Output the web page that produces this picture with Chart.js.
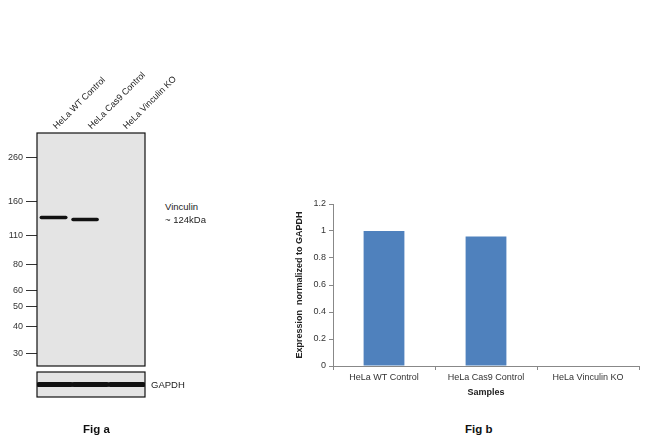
<!DOCTYPE html>
<html><head><meta charset="utf-8">
<script src="https://cdn.jsdelivr.net/npm/chart.js@4"></script>
<style>
body{margin:0;width:650px;height:442px;background:#fff;font-family:Arial,"Liberation Sans",sans-serif;position:relative;overflow:hidden}
canvas{position:absolute}
.t{position:absolute;font-size:9.5px;color:#222;white-space:nowrap}
.lane{position:absolute;font-size:9px;color:#222;white-space:nowrap;transform-origin:0 100%;transform:rotate(-45deg)}
.fig{position:absolute;font-weight:bold;font-size:11.5px;color:#111}
</style></head><body>
<div style="position:absolute;left:0;top:120px;width:160px;height:256px"><canvas id="blot"></canvas></div>
<div style="position:absolute;left:0;top:368px;width:160px;height:34px"><canvas id="gapdh"></canvas></div>
<div style="position:absolute;left:290px;top:190px;width:360px;height:212px"><canvas id="bar"></canvas></div>
<div id="lanes"></div>
<div class="t" style="left:165px;top:201px">Vinculin</div>
<div class="t" style="left:165px;top:214px">~ 124kDa</div>
<div class="t" style="left:151px;top:379px">GAPDH</div>
<div class="fig" style="left:83px;top:423px">Fig a</div>
<div class="fig" style="left:465px;top:423px">Fig b</div>
<script>
const laneLabels=["HeLa WT Control","HeLa Cas9 Control","HeLa Vinculin KO"];
const mwTicks=[260,160,110,80,60,50,40,30];
const vinculinBands=[134,131,null];
const vinculinSpans=[[0.12,0.8],[1.0,1.67],null];
const gapdhBands=[1,1,1];
const gapdhSpans=[[0.05,0.95],[1.02,1.95],[2.03,2.95]];
const categories=["HeLa WT Control","HeLa Cas9 Control","HeLa Vinculin KO"];
const expression=[1.0,0.96,0];
const yTicks=[0,0.2,0.4,0.6,0.8,1,1.2];

const lanesDiv=document.getElementById('lanes');
laneLabels.forEach((l,i)=>{const d=document.createElement('div');d.className='lane';d.textContent=l;d.style.left=(58+i*35)+'px';d.style.top=(121)+'px';lanesDiv.appendChild(d);});

const gelBg={id:'gelBg',beforeDraw(c){const a=c.chartArea,x=c.ctx;x.save();x.fillStyle='#e4e4e4';x.fillRect(a.left,a.top,a.right-a.left,a.bottom-a.top);x.restore();},
afterDraw(c){const a=c.chartArea,x=c.ctx;x.save();x.strokeStyle='#111';x.lineWidth=1.2;x.strokeRect(a.left,a.top,a.right-a.left,a.bottom-a.top);x.restore();}};

function bandSets(vals,spans,w){return vals.map((v,i)=>v==null?null:({data:[{x:spans[i][0],y:v},{x:spans[i][1],y:v}],borderColor:'#111',borderWidth:w,pointRadius:0,showLine:true,borderCapStyle:'round'})).filter(Boolean);}

new Chart(document.getElementById('blot'),{type:'scatter',
data:{datasets:bandSets(vinculinBands,vinculinSpans,3.5)},
options:{responsive:true,maintainAspectRatio:false,animation:false,events:[],
layout:{padding:{top:13,bottom:10,right:15}},
plugins:{legend:{display:false},tooltip:{enabled:false}},
scales:{x:{type:'linear',min:0,max:3,display:false},
y:{type:'logarithmic',min:26,max:340,afterBuildTicks(s){s.ticks=mwTicks.map(v=>({value:v}));},afterFit(s){s.width=37;},
border:{display:false},grid:{drawOnChartArea:false,tickLength:11,color:'#333',tickColor:'#333'},
ticks:{color:'#333',font:{size:9},padding:3,callback:v=>String(v)}}}},plugins:[gelBg]});

new Chart(document.getElementById('gapdh'),{type:'scatter',
data:{datasets:bandSets(gapdhBands,gapdhSpans,5)},
options:{responsive:true,maintainAspectRatio:false,animation:false,events:[],
layout:{padding:{left:37,right:15,top:4,bottom:5}},
plugins:{legend:{display:false},tooltip:{enabled:false}},
scales:{x:{type:'linear',min:0,max:3,display:false},y:{min:0,max:2,display:false}}},plugins:[gelBg]});

new Chart(document.getElementById('bar'),{type:'bar',
data:{labels:categories,datasets:[{data:expression,backgroundColor:'#4f81bd',barPercentage:0.4,categoryPercentage:1}]},
options:{responsive:true,maintainAspectRatio:false,animation:false,events:[],
layout:{padding:{top:14,right:11}},
plugins:{legend:{display:false},tooltip:{enabled:false}},
scales:{x:{offset:true,afterFit(s){s.height=36;},border:{color:'#888'},grid:{offset:true,drawOnChartArea:false,tickLength:4,color:'#888'},
ticks:{color:'#333',font:{size:9},padding:2,maxRotation:0},title:{display:true,text:'Samples',color:'#222',font:{size:9,weight:'bold'},padding:{top:0}}},
y:{min:0,max:1.2,afterBuildTicks(s){s.ticks=yTicks.map(v=>({value:v}));},afterFit(s){s.width=43;},border:{color:'#888'},
grid:{drawOnChartArea:false,tickLength:4,color:'#888'},ticks:{color:'#333',font:{size:9},padding:3,callback:v=>String(v)},
title:{display:true,text:'Expression  normalized to GAPDH',color:'#222',font:{size:9,weight:'bold'},padding:{bottom:2}}}}}});
</script></body></html>
